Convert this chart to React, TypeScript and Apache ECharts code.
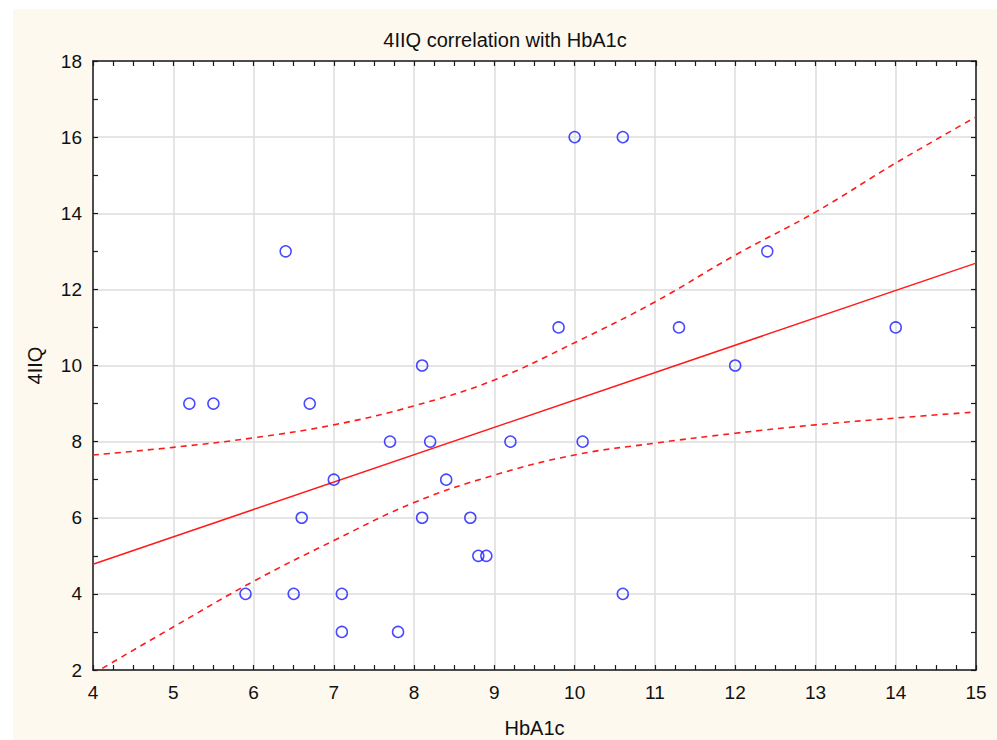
import React, { useEffect, useRef } from "react";
import * as echarts from "echarts";

const titleText = "4IIQ correlation with HbA1c";
const xName = "HbA1c";
const yName = "4IIQ";

const hba1c = [5.2, 5.5, 5.9, 6.4, 6.5, 6.6, 6.7, 7.0, 7.1, 7.1, 7.7, 7.8, 8.1, 8.1, 8.2, 8.4, 8.7, 8.8, 8.9, 9.2, 9.8, 10.0, 10.1, 10.6, 10.6, 11.3, 12.0, 12.4, 14.0];
const iiq4 = [9, 9, 4, 13, 4, 6, 9, 7, 4, 3, 8, 3, 10, 6, 8, 7, 6, 5, 5, 8, 11, 16, 8, 16, 4, 11, 10, 13, 11];

const fitX = [4, 15];
const fitY = [4.78, 12.69];

const upperX = [4, 5, 6, 7, 8, 9, 10, 11, 12, 13, 14, 15];
const upperY = [7.65, 7.85, 8.1, 8.44, 8.94, 9.62, 10.6, 11.67, 12.9, 14.03, 15.32, 16.53];

const lowerX = [4, 5, 6, 7, 8, 9, 10, 11, 12, 13, 14, 15];
const lowerY = [1.9, 3.13, 4.33, 5.4, 6.4, 7.12, 7.65, 7.96, 8.22, 8.44, 8.62, 8.78];

const zip = (a: number[], b: number[]) => a.map((v, i) => [v, b[i]]);

export default function App() {
  const ref = useRef<HTMLDivElement>(null);
  useEffect(() => {
    if (!ref.current) return;
    const chart = echarts.init(ref.current, null, { renderer: "svg" });
    const font = "'Liberation Sans', Arial, sans-serif";
    const axisLine = { show: true, lineStyle: { color: "#1a1a1a", width: 1.5 } };
    const tick = { show: true, inside: true, length: 5, lineStyle: { color: "#1a1a1a", width: 1.2 } };
    const minor = (n: number) => ({ show: true, splitNumber: n, length: 5, lineStyle: { color: "#1a1a1a", width: 1.2 } });
    const xBase = { type: "value", min: 4, max: 15, interval: 1 };
    const yBase = { type: "value", min: 2, max: 18, interval: 2 };
    chart.setOption({
      animation: false,
      backgroundColor: "#fdf9ef",
      title: {
        text: titleText,
        left: "center",
        top: 16,
        textStyle: { fontFamily: font, fontSize: 20, fontWeight: "normal", color: "#111" },
      },
      grid: {
        left: 80,
        top: 52,
        right: 21,
        bottom: 70,
        outerBoundsMode: "none",
        show: true,
        backgroundColor: "#ffffff",
        borderWidth: 0,
      },
      xAxis: [
        {
          ...xBase,
          position: "bottom",
          name: xName,
          nameLocation: "middle",
          nameGap: 48,
          nameTextStyle: { fontFamily: font, fontSize: 20, color: "#111" },
          axisLine,
          axisTick: tick,
          minorTick: minor(4),
          axisLabel: { fontFamily: font, fontSize: 19, color: "#111", margin: 13 },
          splitLine: { show: true, lineStyle: { color: "#dcdcdc", width: 1.5 } },
        },
        {
          ...xBase,
          position: "top",
          axisLine,
          axisTick: tick,
          minorTick: minor(4),
          axisLabel: { show: false },
          splitLine: { show: false },
        },
      ],
      yAxis: [
        {
          ...yBase,
          position: "left",
          name: yName,
          nameLocation: "middle",
          nameGap: 48,
          nameTextStyle: { fontFamily: font, fontSize: 20, color: "#111" },
          axisLine,
          axisTick: tick,
          minorTick: minor(2),
          axisLabel: { fontFamily: font, fontSize: 19, color: "#111", margin: 11 },
          splitLine: { show: true, lineStyle: { color: "#dcdcdc", width: 1.5 } },
        },
        {
          ...yBase,
          position: "right",
          axisLine,
          axisTick: tick,
          minorTick: minor(2),
          axisLabel: { show: false },
          splitLine: { show: false },
        },
      ],
      series: [
        {
          type: "line",
          data: zip(fitX, fitY),
          showSymbol: false,
          symbol: "none",
          lineStyle: { color: "#ff1a1a", width: 1.5 },
          z: 3,
        },
        {
          type: "line",
          data: zip(upperX, upperY),
          smooth: 0.4,
          symbol: "none",
          lineStyle: { color: "#ff1a1a", width: 1.6, type: [6, 5] },
          z: 3,
        },
        {
          type: "line",
          data: zip(lowerX, lowerY),
          smooth: 0.4,
          symbol: "none",
          lineStyle: { color: "#ff1a1a", width: 1.6, type: [6, 5] },
          z: 3,
        },
        {
          type: "scatter",
          data: zip(hba1c, iiq4),
          symbol: "circle",
          symbolSize: 11,
          itemStyle: { color: "rgba(0,0,0,0)", borderColor: "#1a1aff", borderWidth: 1.5 },
          z: 4,
        },
      ],
    });
    return () => chart.dispose();
  }, []);
  return (
    <div style={{ position: "absolute", left: 0, top: 0, width: 997, height: 740, background: "#ffffff" }}>
      <div ref={ref} style={{ position: "absolute", left: 13, top: 9, width: 984, height: 731 }} />
    </div>
  );
}
